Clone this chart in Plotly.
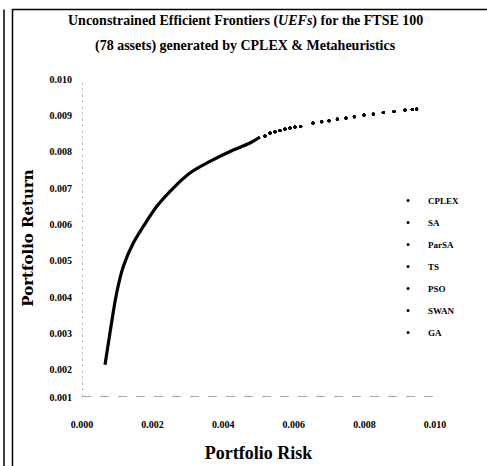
import plotly.graph_objects as go

# Frontier (risk, return)
risk_dense = [0.000652, 0.000793, 0.000983, 0.001170, 0.001453, 0.001737, 0.002116,
              0.002586, 0.003059, 0.003626, 0.004193, 0.004759, 0.005042]
ret_dense = [0.002136, 0.003017, 0.004118, 0.004842, 0.005486, 0.005943, 0.006493,
             0.007000, 0.007413, 0.007732, 0.008007, 0.008238, 0.008404]

risk_sparse = [0.005184, 0.005326, 0.005467, 0.005609, 0.005751, 0.005892, 0.006034,
               0.006195, 0.006544, 0.006790, 0.006997, 0.007232, 0.007479, 0.007714,
               0.007989, 0.008252, 0.008535, 0.008839, 0.009150, 0.009357, 0.009482]
ret_sparse = [0.008435, 0.008514, 0.008549, 0.008585, 0.008624, 0.008651, 0.008679,
              0.008695, 0.008789, 0.008825, 0.008852, 0.008899, 0.008927, 0.008962,
              0.009009, 0.009037, 0.009081, 0.009108, 0.009147, 0.009163, 0.009174]

methods = ["CPLEX", "SA", "ParSA", "TS", "PSO", "SWAN", "GA"]

x_ticks = [0.000, 0.002, 0.004, 0.006, 0.008, 0.010]
x_ticktext = ["0.000", "0.002", "0.004", "0.006", "0.008", "0.010"]
y_min = 0.00125
y_max = 0.0100
y_ticks = [y_min, 0.002, 0.003, 0.004, 0.005, 0.006, 0.007, 0.008, 0.009, 0.010]
y_ticktext = ["0.001", "0.002", "0.003", "0.004", "0.005", "0.006", "0.007", "0.008", "0.009", "0.010"]

title_lines = ["Unconstrained Efficient Frontiers (<i>UEFs</i>) for the FTSE 100",
               "(78 assets) generated by CPLEX &amp; Metaheuristics"]

serif = "Liberation Serif, Times New Roman, serif"

fig = go.Figure()
fig.add_trace(go.Scatter(x=risk_dense, y=ret_dense, mode="lines",
                         line=dict(color="black", width=3.2, shape="spline"),
                         showlegend=False, hoverinfo="skip", cliponaxis=False))
for i, m in enumerate(methods):
    fig.add_trace(go.Scatter(x=risk_sparse, y=ret_sparse, mode="markers", name=m,
                             legendgroup=m, cliponaxis=False,
                             marker=dict(color="black", size=3)))

# plot area: px 82..435, py 79..397  (paper coords derived from these)
def px2x(px):
    return (px - 82) / 353

def py2y(py):
    return (397 - py) / 318

shapes = [
    # dashed axes
    dict(type="line", xref="x", yref="y", x0=0, x1=0.010, y0=y_min, y1=y_min,
         line=dict(color="#555", width=1, dash="dash")),
    dict(type="line", xref="x", yref="y", x0=0, x1=0, y0=y_min, y1=y_max,
         line=dict(color="#888", width=1, dash="dot")),
    # frame
    dict(type="rect", xref="paper", yref="paper", x0=px2x(12.5), x1=px2x(520),
         y0=py2y(9.5), y1=py2y(500), fillcolor="rgba(0,0,0,0)",
         line=dict(color="black", width=1.5)),
    dict(type="line", xref="paper", yref="paper", x0=px2x(4), x1=px2x(4), y0=py2y(9.5), y1=py2y(470),
         line=dict(color="black", width=1.5)),
]

annotations = [
    dict(text=title_lines[0], xref="paper", yref="paper", x=px2x(245), y=py2y(21),
         xanchor="center", yanchor="middle", showarrow=False,
         font=dict(family=serif, size=14, color="black", weight="bold")),
    dict(text=title_lines[1], xref="paper", yref="paper", x=px2x(245), y=py2y(46),
         xanchor="center", yanchor="middle", showarrow=False,
         font=dict(family=serif, size=14, color="black", weight="bold")),
]

fig.update_layout(
    width=487, height=466,
    margin=dict(l=82, r=52, t=79, b=69),
    paper_bgcolor="white", plot_bgcolor="white",
    xaxis=dict(range=[0, 0.010], tickvals=x_ticks, ticktext=x_ticktext,
               showgrid=False, zeroline=False, showline=False, ticks="",
               automargin=False, ticklabelstandoff=20,
               tickfont=dict(family=serif, size=10, color="black", weight="bold"),
               title=dict(text="Portfolio Risk", standoff=17,
                          font=dict(family=serif, size=18, color="black", weight="bold"))),
    yaxis=dict(range=[y_min, y_max], tickvals=y_ticks, ticktext=y_ticktext,
               showgrid=False, zeroline=False, showline=False, ticks="",
               automargin=False, ticklabelstandoff=9,
               tickfont=dict(family=serif, size=10, color="black", weight="bold"),
               title=dict(text="Portfolio Return", standoff=12,
                          font=dict(family="DejaVu Serif, serif", size=15, color="black", weight="bold"))),
    legend=dict(x=0.867, xanchor="left", y=py2y(186), yanchor="top",
                bgcolor="rgba(0,0,0,0)", tracegroupgap=3,
                font=dict(family=serif, size=9, color="black", weight="bold")),
    shapes=shapes,
    annotations=annotations,
    showlegend=True,
)

fig.write_html("out.html")
